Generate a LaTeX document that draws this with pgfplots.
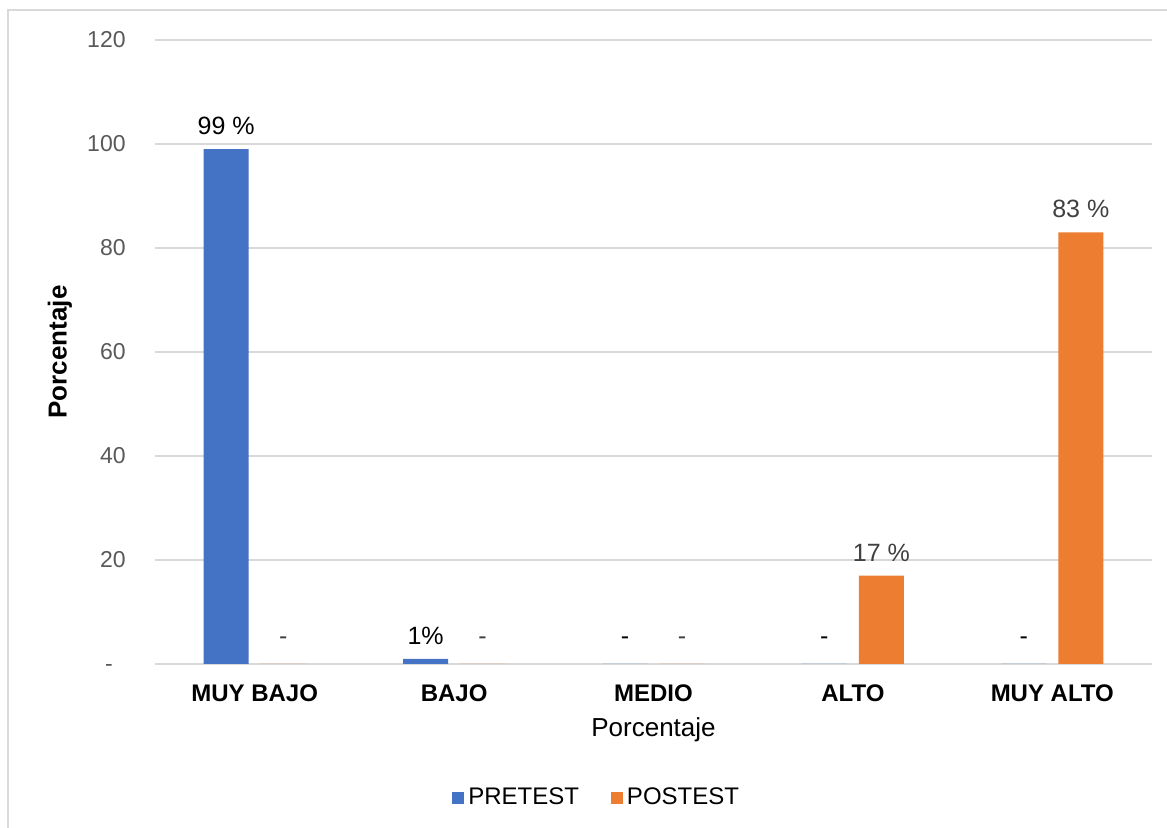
\documentclass[border=0pt]{standalone}
\usepackage{pgfplots}
\pgfplotsset{compat=1.18}
\usepackage{fontspec}
\setmainfont{Liberation Sans}

\definecolor{pretest}{HTML}{4472C4}
\definecolor{postest}{HTML}{ED7D31}
\definecolor{gridgray}{HTML}{D9D9D9}
\definecolor{ticktext}{HTML}{595959}
\definecolor{valtext}{HTML}{404040}

\newcommand{\fs}[1]{\fontsize{#1}{#1}\selectfont}

\begin{document}
\begin{tikzpicture}
% page area and outer chart frame
\useasboundingbox (-77.5pt,-82pt) rectangle (506pt,332pt);
\draw[gridgray, line width=1pt] (-73.5pt,-90pt) -- (-73.5pt,327pt) -- (515pt,327pt);

\begin{axis}[
  at={(0,0)}, anchor=south west,
  scale only axis,
  width=498.5pt, height=312pt,
  ybar, bar width=22.5pt, ybar=6pt,
  xmin=-0.5, xmax=4.5,
  ymin=0, ymax=120,
  xtick={0,1,2,3,4},
  xticklabels={MUY BAJO,BAJO,MEDIO,ALTO,MUY ALTO},
  ytick={0,20,40,60,80,100,120},
  yticklabels={{-\phantom{0}},20,40,60,80,100,120},
  major tick length=0pt,
  ymajorgrids,
  grid style={gridgray, line width=0.9pt},
  axis lines*=left,
  x axis line style={gridgray, line width=0.9pt, -},
  y axis line style={draw=none},
  xticklabel style={font=\fs{12}\bfseries, text=black, anchor=center, yshift=-14.5pt},
  yticklabel style={font=\fs{11.5}, text=ticktext, anchor=east, inner sep=0pt, xshift=-14.5pt},
  /pgf/number format/assume math mode=true,
  xlabel={Porcentaje},
  xlabel style={font=\fs{13}, at={(axis description cs:0.5,0)}, anchor=center, yshift=-33pt},
  ylabel={Porcentaje},
  ylabel style={font=\fs{13}\bfseries, at={(axis description cs:-0.0953,0.5)}, anchor=center, rotate=0},
  legend style={
    at={(axis description cs:0.444,-0.2147)}, anchor=center,
    draw=none, fill=none, font=\fs{12},
    legend columns=2,
    /tikz/every even column/.append style={column sep=14pt}},
  legend image code/.code={\fill[#1] (0pt,-3pt) rectangle (6pt,3pt);},
  nodes near coords,
  point meta=explicit symbolic,
  every node near coord/.append style={font=\fs{12.5}, anchor=center, yshift=11.5pt},
]
\addplot[fill=pretest, draw=none,
  every node near coord/.append style={text=black}]
  coordinates {(0,99)[99 \%] (1,1)[1\%] (2,0)[-] (3,0)[-] (4,0)[-]};
\addplot[fill=postest, draw=none,
  every node near coord/.append style={text=valtext}]
  coordinates {(0,0)[-] (1,0)[-] (2,0)[-] (3,17)[17 \%] (4,83)[83 \%]};
\legend{PRETEST,POSTEST}
\end{axis}
\end{tikzpicture}
\end{document}
